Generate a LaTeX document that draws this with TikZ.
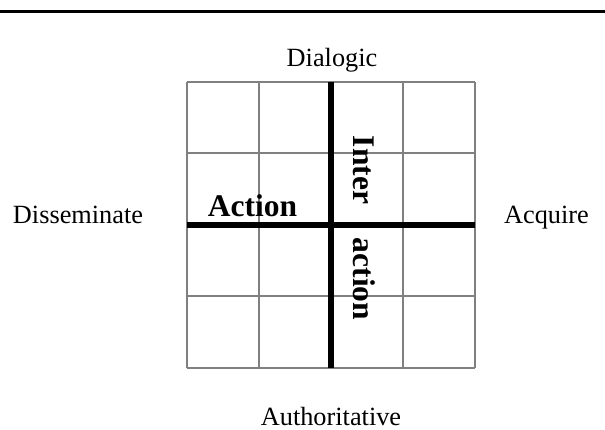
\documentclass[tikz,border=0pt]{standalone}
\usepackage{fontspec}
\setmainfont{Liberation Serif}
\begin{document}
\begin{tikzpicture}[x=1pt,y=-1pt,
  lbl/.style={inner sep=0pt,anchor=base,font=\fontsize{26.3}{30}\selectfont},
  bold/.style={inner sep=0pt,anchor=base,font=\fontsize{31.5}{36}\selectfont\bfseries},
  gridline/.style={draw=black!50,line width=2pt},
  axis/.style={draw=black,line width=5.5pt}]
\useasboundingbox (0,0) rectangle (605,430);
% rule across the top
\draw[line width=3pt] (0,11.5) -- (605,11.5);
% the 4x4 grid
\foreach \i in {0,...,4} {
  \draw[gridline] ({187+72*\i},82) -- ({187+72*\i},368);
  \draw[gridline] (187,{82+71.5*\i}) -- (475,{82+71.5*\i});
}
% the two axes
\coordinate (t) at (331,82);
\coordinate (b) at (331,368);
\coordinate (l) at (187,225);
\coordinate (r) at (475,225);
\draw[axis] (t) -- (b);
\draw[axis] (l) -- (r);
% pole labels
\node[lbl] (dia) at (332,67) {Dialogic};
\node[lbl] (dis) at (78,224) {Disseminate};
\node[lbl] (acq) at (546.5,224) {Acquire};
\node[lbl] (aut) at (331,425) {Authoritative};
% inner labels
\node[bold] (act) at (252.5,217) {Action};
\node[bold,rotate=-90] (int) at (353,170) {Inter};
\node[bold,rotate=-90] (ac2) at (353,279) {action};
\end{tikzpicture}
\end{document}
